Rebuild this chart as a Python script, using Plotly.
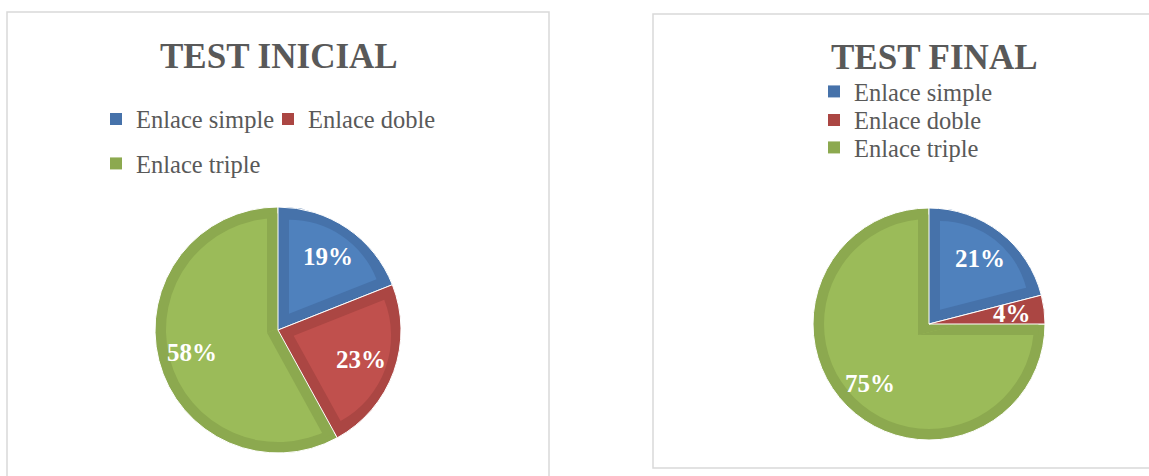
import math
import plotly.graph_objects as go

# ---------------- data ----------------
labels = ["Enlace simple", "Enlace doble", "Enlace triple"]
inicial_pct = [19, 23, 58]
final_pct = [21, 4, 75]
chart_titles = ["TEST INICIAL", "TEST FINAL"]

# ---------------- style ----------------
W, H = 1149, 476
LIGHT = ["#4F81BD", "#C0504D", "#9BBB59"]
DARK = ["#4672AA", "#AB4643", "#8CA94F"]
CLEAR = "rgba(0,0,0,0)"
WHITE = "#FFFFFF"
BAND = 11
GRAY = "#595959"
SERIF = "Liberation Serif"
LABEL_R = 0.72

charts = [
    dict(values=inicial_pct, title=chart_titles[0], cx=278, cy=330, R=123, tx=278.5, ty=56,
         legend_pos=[(116, 119), (288, 119), (116, 163.5)]),
    dict(values=final_pct, title=chart_titles[1], cx=929, cy=324, R=116, tx=934, ty=57.5,
         legend_pos=[(834, 91.5), (834, 120), (834, 147.5)]),
]


def domain(cx, cy, s):
    return dict(x=[(cx - s) / W, (cx + s) / W], y=[1 - (cy + s) / H, 1 - (cy - s) / H])


def pie(values, colors, dom, line_colors=None, line_width=0, pull=None, lab=None, **kw):
    return go.Pie(labels=lab or labels, values=values, sort=False, direction="clockwise",
                  rotation=0,
                  marker=dict(colors=colors,
                              line=dict(color=line_colors if line_colors else CLEAR,
                                        width=line_width)),
                  domain=dom, textinfo="none", hoverinfo="skip",
                  pull=pull if pull is not None else 0, **kw)


traces = []
annotations = []
legends = {}
leg_n = 0

for ch in charts:
    vals = ch["values"]
    cx, cy, R = ch["cx"], ch["cy"], ch["R"]
    n = len(vals)
    total = float(sum(vals))
    spans = [360.0 * v / total for v in vals]
    starts = [sum(spans[:i]) for i in range(n)]
    mids = [starts[i] + spans[i] / 2 for i in range(n)]
    big = max(range(n), key=lambda i: spans[i])
    if spans[big] <= 180:
        big = None

    # legend carriers (tiny, hidden beneath the pie)
    for i in range(n):
        leg_n += 1
        lid = "legend" if leg_n == 1 else "legend%d" % leg_n
        traces.append(pie([vals[i]], [DARK[i]], domain(cx, cy, 3), lab=[labels[i]],
                          showlegend=True, legend=lid, legendgroup="g%d" % leg_n))
        mx, my = ch["legend_pos"][i]
        legends[lid] = dict(x=(mx - 20) / W, y=1 - my / H, xanchor="left", yanchor="middle",
                            orientation="v", bgcolor=CLEAR, borderwidth=0,
                            font=dict(family=SERIF, size=24.5, color=GRAY))

    # A: full dark pie
    traces.append(pie(vals, DARK, domain(cx, cy, R), [WHITE] * n, 1, showlegend=False))

    if big is not None:
        # B: light disk for the large slice
        traces.append(pie(vals, [LIGHT[big]] * n, domain(cx, cy, R - BAND), showlegend=False))
        # C: dark wedge (complement sector grown by the band width)
        comp_span = 360.0 - spans[big]
        comp_mid = math.radians(mids[big] + 180.0)
        half = math.radians(comp_span / 2)
        d = BAND / math.sin(half)
        ax = cx - d * math.sin(comp_mid)
        ay = cy + d * math.cos(comp_mid)
        rho = R - BAND / 2.0
        rw = d * math.cos(half) + math.sqrt(rho ** 2 - BAND ** 2)
        traces.append(pie(vals, [DARK[big] if i != big else CLEAR for i in range(n)],
                          domain(ax, ay, rw), showlegend=False))
        # D: small slices dark again on top
        traces.append(pie(vals, [DARK[i] if i != big else CLEAR for i in range(n)],
                          domain(cx, cy, R),
                          [WHITE if i != big else CLEAR for i in range(n)], 1,
                          showlegend=False))

    # E: light inner part of each small slice
    for i in range(n):
        if i == big:
            continue
        half = math.radians(spans[i] / 2)
        d = BAND / math.sin(half)
        if d > 0.45 * (R - BAND):
            continue
        r_in = R - BAND - d * (1 + math.cos(half)) / 2
        p = d / r_in
        traces.append(pie(vals, [LIGHT[j] if j == i else CLEAR for j in range(n)],
                          domain(cx, cy, r_in + d),
                          pull=[p if j == i else 0 for j in range(n)], showlegend=False))

    # percentage labels
    for i in range(n):
        a = math.radians(mids[i])
        x = cx + LABEL_R * R * math.sin(a)
        y = cy - LABEL_R * R * math.cos(a)
        annotations.append(dict(x=x / W, y=1 - y / H, xref="paper", yref="paper",
                                text="%d%%" % round(100 * vals[i] / total), showarrow=False,
                                xanchor="center", yanchor="middle",
                                font=dict(family=SERIF, size=25, color=WHITE, weight="bold")))

    # title
    annotations.append(dict(x=ch["tx"] / W, y=1 - ch["ty"] / H, xref="paper", yref="paper",
                            text=ch["title"], showarrow=False, xanchor="center",
                            yanchor="middle",
                            font=dict(family=SERIF, size=35, color=GRAY, weight="bold")))

shapes = [
    dict(type="rect", xref="paper", yref="paper", x0=7 / W, x1=549 / W, y0=1 - 495 / H,
         y1=1 - 12 / H, line=dict(color="#D9D9D9", width=1.5), fillcolor=CLEAR, layer="below"),
    dict(type="rect", xref="paper", yref="paper", x0=653 / W, x1=1165 / W, y0=1 - 468 / H,
         y1=1 - 14 / H, line=dict(color="#D9D9D9", width=1.5), fillcolor=CLEAR, layer="below"),
]

fig = go.Figure(data=traces)
fig.update_layout(width=W, height=H, autosize=False,
                  margin=dict(l=0, r=0, t=0, b=0, pad=0, autoexpand=False),
                  paper_bgcolor="#FFFFFF", plot_bgcolor="#FFFFFF",
                  annotations=annotations, shapes=shapes, **legends)
fig.write_html("out.html")
